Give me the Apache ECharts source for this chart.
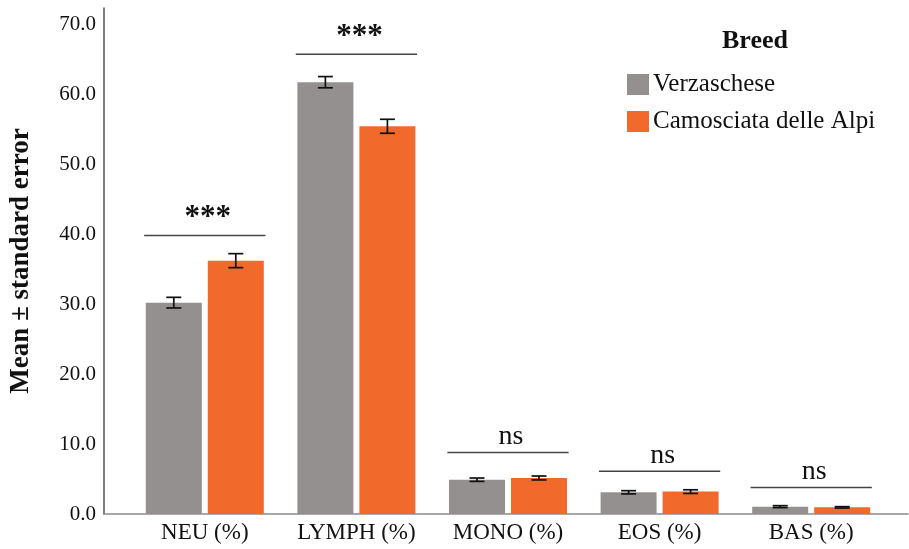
<!DOCTYPE html>
<html>
<head>
<meta charset="utf-8">
<script src="https://cdn.jsdelivr.net/npm/echarts@6/dist/echarts.min.js"></script>
<style>
  html, body { margin: 0; padding: 0; background: #ffffff; }
  #chart { width: 909px; height: 549px; }
</style>
</head>
<body>
<div id="chart"></div>
<script>
// Leukocyte differential by breed: mean ± standard error
const categories = ['NEU (%)', 'LYMPH (%)', 'MONO (%)', 'EOS (%)', 'BAS (%)'];
const verzMean = [30.2, 61.7, 4.9, 3.1, 1.05];
const verzSE   = [0.76, 0.8, 0.24, 0.23, 0.14];
const camMean  = [36.2, 55.4, 5.15, 3.2, 0.95];
const camSE    = [1.0, 1.0, 0.28, 0.26, 0.1];
const sigLevel = [39.8, 65.7, 8.8, 6.1, 3.8];
const sigLabel = ['***', '***', 'ns', 'ns', 'ns'];
const seriesNames = ['Verzaschese', 'Camosciata delle Alpi'];
const yTickStep = 10;

const GRAY = '#94908f';
const ORANGE = '#f2692c';
const FONT = 'Liberation Serif';
const BAR_W = 56;
const BAR_GAP = 6;
const Y_MAX = 72.3;

const chart = echarts.init(document.getElementById('chart'), null, { renderer: 'canvas' });

function errorData(mean, se) {
  return mean.map((m, i) => [i, m - se[i], m + se[i]]);
}

function errorRenderer(dx) {
  return function (params, api) {
    const i = api.value(0);
    const lo = api.coord([i, api.value(1)]);
    const hi = api.coord([i, api.value(2)]);
    const x = lo[0] + dx;
    const cap = 7.5;
    const st = { stroke: '#111', lineWidth: 1.7 };
    return {
      type: 'group',
      children: [
        { type: 'line', shape: { x1: x, y1: lo[1], x2: x, y2: hi[1] }, style: st },
        { type: 'line', shape: { x1: x - cap, y1: lo[1], x2: x + cap, y2: lo[1] }, style: st },
        { type: 'line', shape: { x1: x - cap, y1: hi[1], x2: x + cap, y2: hi[1] }, style: st }
      ]
    };
  };
}

const off = (BAR_W + BAR_GAP) / 2;

const option = {
  animation: false,
  backgroundColor: '#ffffff',
  title: {
    text: 'Breed',
    left: 722,
    top: 28,
    padding: 0,
    textStyle: { fontFamily: FONT, fontWeight: 'bold', fontSize: 26, color: '#111' }
  },
  legend: {
    orient: 'vertical',
    left: 627,
    top: 72,
    padding: 0,
    itemWidth: 22,
    itemHeight: 21,
    itemGap: 12,
    icon: 'rect',
    data: seriesNames,
    textStyle: { fontFamily: FONT, fontSize: 25, color: '#111', padding: [0, 0, 0, -1] }
  },
  grid: [
    { left: 129, right: 22, top: 8, bottom: 35 },
    { left: 102, right: 1, top: 8, bottom: 35 }
  ],
  xAxis: [
    {
      type: 'category',
      gridIndex: 0,
      data: categories,
      axisLine: { show: false },
      axisTick: { show: false },
      axisLabel: { interval: 0, hideOverlap: false, fontFamily: FONT, fontSize: 23, color: '#111', margin: 7 }
    },
    {
      type: 'value',
      gridIndex: 1,
      min: 0,
      max: 1,
      axisLine: { show: true, lineStyle: { color: '#8a8a8a', width: 1.5 } },
      axisTick: { show: false },
      axisLabel: { show: false },
      splitLine: { show: false }
    }
  ],
  yAxis: [
    {
      type: 'value',
      gridIndex: 0,
      min: 0,
      max: Y_MAX,
      show: false,
      splitLine: { show: false }
    },
    {
      type: 'value',
      gridIndex: 1,
      min: 0,
      max: Y_MAX,
      interval: yTickStep,
      name: 'Mean \u00b1 standard error',
      nameLocation: 'middle',
      nameGap: 69,
      nameTextStyle: { fontFamily: FONT, fontWeight: 'bold', fontSize: 27, color: '#111' },
      axisLine: { show: true, lineStyle: { color: '#555', width: 1.5 } },
      axisTick: { show: false },
      splitLine: { show: false },
      axisLabel: {
        showMaxLabel: false,
        fontFamily: FONT,
        fontSize: 21,
        color: '#111',
        margin: 8,
        formatter: v => (Math.abs(v % yTickStep) < 1e-6 ? v.toFixed(1) : '')
      }
    }
  ],
  series: [
    {
      name: seriesNames[0],
      type: 'bar',
      xAxisIndex: 0,
      yAxisIndex: 0,
      data: verzMean,
      barWidth: BAR_W,
      barGap: (BAR_GAP / BAR_W * 100) + '%',
      itemStyle: { color: GRAY }
    },
    {
      name: seriesNames[1],
      type: 'bar',
      xAxisIndex: 0,
      yAxisIndex: 0,
      data: camMean,
      barWidth: BAR_W,
      itemStyle: { color: ORANGE }
    },
    {
      type: 'custom',
      xAxisIndex: 0,
      yAxisIndex: 0,
      data: errorData(verzMean, verzSE),
      renderItem: errorRenderer(-off),
      z: 5
    },
    {
      type: 'custom',
      xAxisIndex: 0,
      yAxisIndex: 0,
      data: errorData(camMean, camSE),
      renderItem: errorRenderer(off),
      z: 5
    },
    {
      // significance brackets above each pair of bars
      type: 'custom',
      xAxisIndex: 0,
      yAxisIndex: 0,
      data: sigLevel.map((v, i) => [i, v]),
      z: 5,
      renderItem: function (params, api) {
        const i = api.value(0);
        const p = api.coord([i, api.value(1)]);
        const band = api.size([1, 0])[0];
        const half = band * 0.4;
        const label = sigLabel[params.dataIndex];
        const stars = label.indexOf('*') >= 0;
        return {
          type: 'group',
          children: [
            {
              type: 'line',
              shape: { x1: p[0] - half, y1: p[1], x2: p[0] + half, y2: p[1] },
              style: { stroke: '#444', lineWidth: 1.5 }
            },
            {
              type: 'text',
              style: {
                text: label,
                x: p[0] + 3,
                y: stars ? p[1] - 17 : p[1] - 16,
                align: 'center',
                verticalAlign: 'middle',
                fontFamily: FONT,
                fontWeight: stars ? 'bold' : 'normal',
                fontSize: stars ? 31 : 28,
                fill: '#111'
              }
            }
          ]
        };
      }
    }
  ]
};

chart.setOption(option);
</script>
</body>
</html>
